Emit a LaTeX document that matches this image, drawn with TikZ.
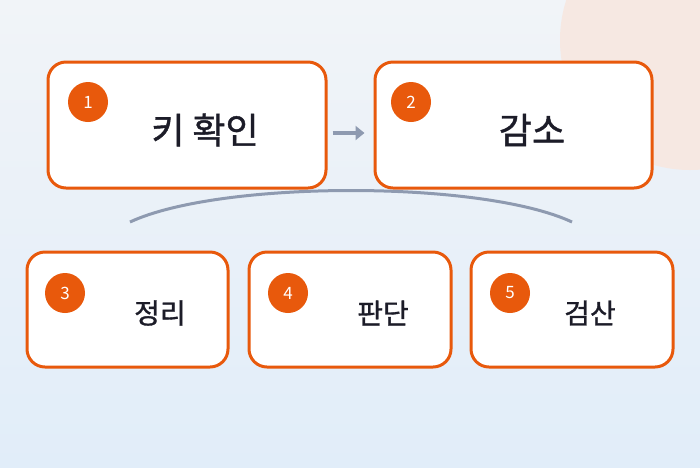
\documentclass[tikz,border=0pt]{standalone}
\usepackage{fontspec}
\newfontfamily\cjk{Noto Sans CJK KR}
\newfontfamily\cjkm[FakeBold=1.2]{Noto Sans CJK KR}
\usetikzlibrary{arrows.meta}
\definecolor{org}{HTML}{E8590C}
\definecolor{ink}{HTML}{1C1C28}
\definecolor{gl}{HTML}{8E9AB0}
\definecolor{bgt}{HTML}{F1F4F8}
\definecolor{bgb}{HTML}{E1EDF9}
\definecolor{peach}{HTML}{F6E8E2}
\begin{document}
\begin{tikzpicture}[x=1pt,y=-1pt,
 box/.style={draw=org,line width=3pt,rounded corners=18pt,fill=white,inner sep=0},
 badge/.style={circle,fill=org,text=white,minimum size=40pt,inner sep=0,font=\cjk\fontsize{17}{17}\selectfont},
 big/.style={text=ink,font=\cjkm\fontsize{36}{36}\selectfont},
 small/.style={text=ink,font=\cjkm\fontsize{28}{28}\selectfont}]
\shade[top color=bgt,bottom color=bgb] (0,0) rectangle (700,467);
\useasboundingbox (0,0) rectangle (700,467);
\fill[peach] (690,40) circle (130);
\node[box,minimum width=278pt,minimum height=126pt] (b1) at (187,125) {};
\node[box,minimum width=277pt,minimum height=126pt] (b2) at (513.5,125) {};
\node[box,minimum width=201pt,minimum height=115pt] (b3) at (127.5,309.5) {};
\node[box,minimum width=202pt,minimum height=115pt] (b4) at (350,309.5) {};
\node[box,minimum width=202pt,minimum height=115pt] (b5) at (572,309.5) {};
\node[badge] (n1) at (88,102) {1};
\node[badge] (n2) at (411,102) {2};
\node[badge] (n3) at (65,293) {3};
\node[badge] (n4) at (288,293) {4};
\node[badge] (n5) at (510,293) {5};
\node[big] (t1) at (205,130) {키 확인};
\node[big] (t2) at (532,130) {감소};
\node[small] (t3) at (160,313) {정리};
\node[small] (t4) at (383,313) {판단};
\node[small] (t5) at (590,313) {검산};
\draw[gl,line width=4pt,-{Triangle[length=9pt,width=14pt]}] (b1.east) ++(5,8) coordinate (a0) -- ++(32,0) coordinate (a1);
\coordinate (c0) at (130,222); \coordinate (c1) at (572,222);
\draw[gl,line width=3pt] (c0) .. controls (220,180) and (482,180) .. (c1);
\end{tikzpicture}
\end{document}
